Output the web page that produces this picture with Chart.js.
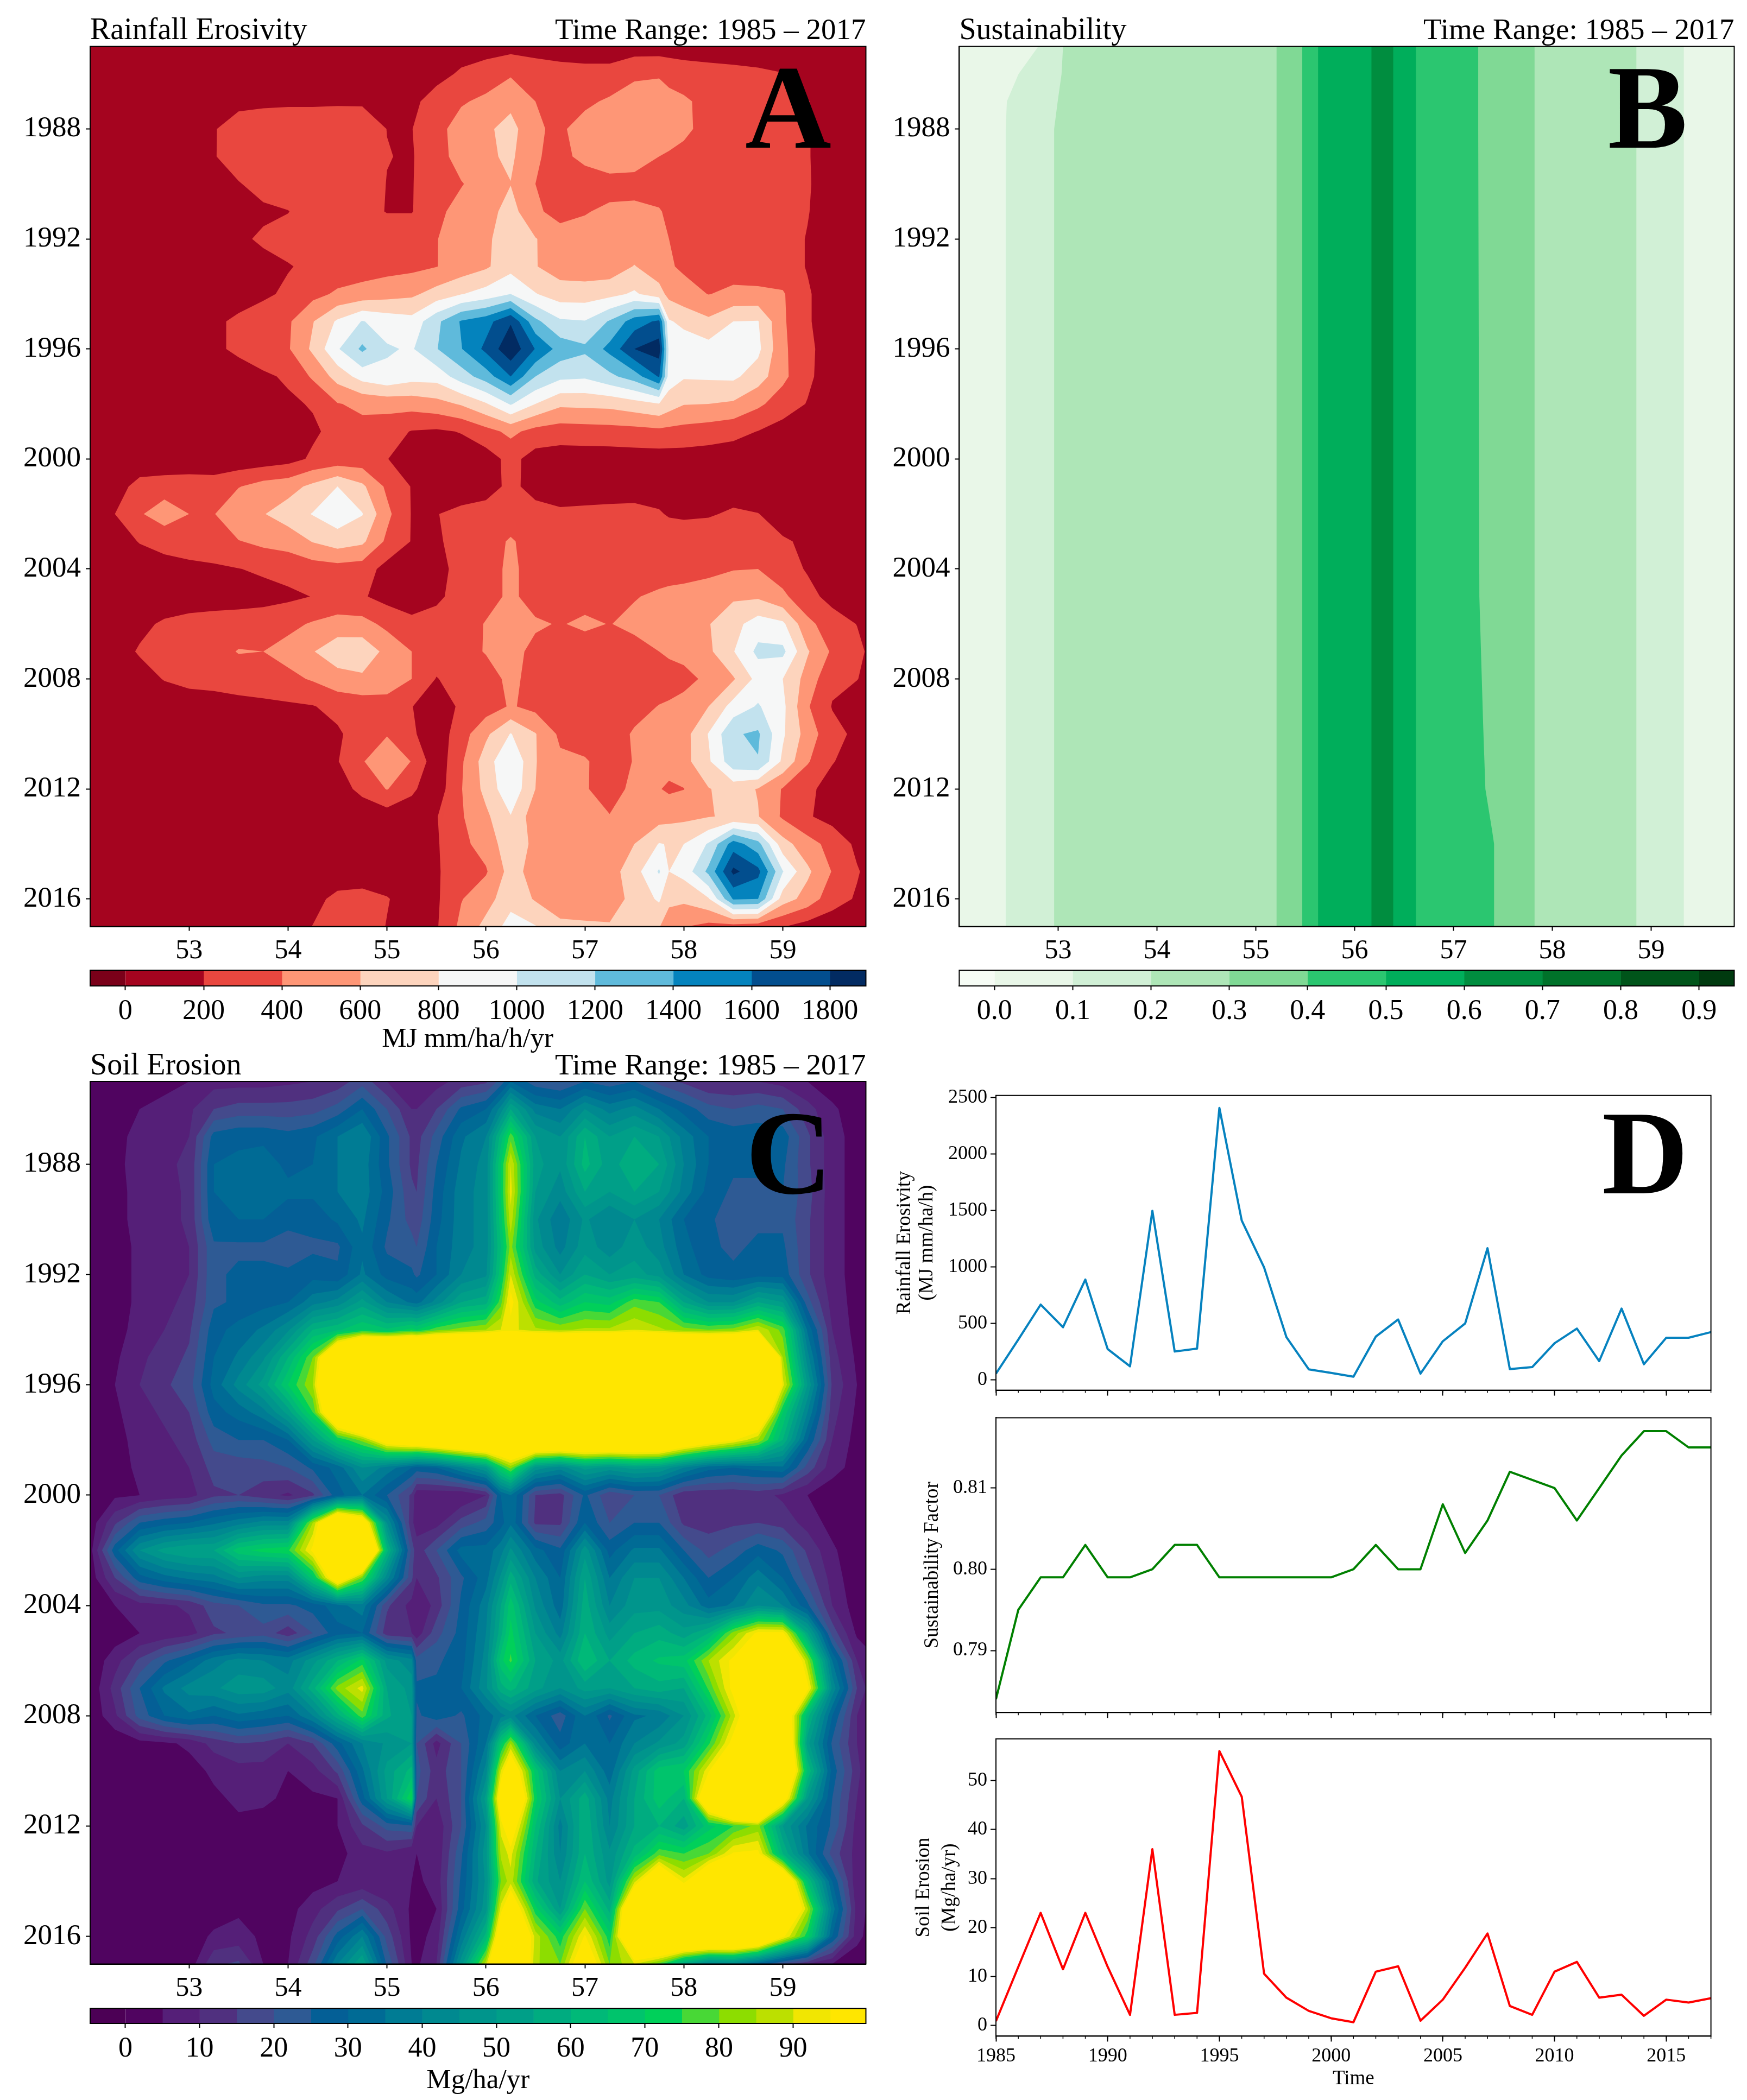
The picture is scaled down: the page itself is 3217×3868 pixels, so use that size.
<!DOCTYPE html>
<html>
<head>
<meta charset="utf-8">
<title>Rainfall erosivity, sustainability and soil erosion</title>
<script src="https://cdn.jsdelivr.net/npm/chart.js@4"></script>
<style>
html, body { margin: 0; padding: 0; background: #fff; }
#page { position: relative; width: 3217px; height: 3868px; overflow: hidden; }
canvas { position: absolute; }
</style>
</head>
<body>
<div id="page"></div>
<script>
const years = [1985,1986,1987,1988,1989,1990,1991,1992,1993,1994,1995,1996,1997,1998,1999,2000,2001,2002,2003,2004,2005,2006,2007,2008,2009,2010,2011,2012,2013,2014,2015,2016,2017]
const yearTicks = [1988,1992,1996,2000,2004,2008,2012,2016]
const lonTicks = [53,54,55,56,57,58,59]

// panel A: rainfall erosivity, one row per year
const lonA = [52,52.25,52.5,52.75,53,53.25,53.5,53.75,54,54.25,54.5,54.75,55,55.25,55.5,55.75,56,56.25,56.5,56.75,57,57.25,57.5,57.75,57.85,58,58.25,58.5,58.75,59,59.25,59.5,59.75,59.84]
const erosivity = [
[30,30,30,30,30,30,30,30,30,30,30,30,30,40,60,100,110,130,110,100,100,100,100,100,100,100,100,100,100,100,40,30,30,30],
[50,50,50,50,50,50,60,60,60,60,60,60,60,70,130,230,300,380,320,280,260,260,370,380,340,300,270,250,230,205,120,60,50,50],
[40,40,40,50,60,100,160,170,175,175,180,180,170,150,290,380,440,540,400,330,360,430,480,500,460,430,340,320,300,280,210,90,50,40],
[40,40,50,70,110,190,270,290,300,300,300,290,198,195,340,480,560,680,420,370,480,560,560,540,480,430,350,330,310,300,215,90,50,40],
[40,40,50,70,110,190,280,320,330,330,320,300,205,185,330,470,560,640,410,370,430,500,480,400,380,360,330,320,310,300,215,90,50,40],
[40,40,50,60,90,130,190,260,300,320,320,300,195,190,320,390,480,595,400,350,340,340,340,340,335,330,320,320,310,300,220,90,50,40],
[40,40,40,50,70,90,120,170,195,280,300,280,190,190,360,460,520,680,430,340,390,430,440,410,375,340,320,310,300,290,210,90,50,40],
[40,40,40,50,70,90,170,225,260,300,320,340,340,340,395,470,560,720,610,480,460,460,450,430,400,370,330,320,300,280,190,90,50,40],
[40,40,40,50,60,70,110,150,190,235,280,310,330,350,395,480,570,730,610,500,480,480,610,480,420,370,330,320,300,280,190,90,50,40],
[40,40,50,60,80,100,130,170,230,340,430,470,520,560,680,790,880,1000,810,700,700,740,830,680,540,470,395,440,440,420,220,100,50,40],
[40,50,70,100,130,170,230,290,370,590,830,1010,920,870,1150,1420,1520,1780,1250,1030,1010,1220,1500,1640,820,750,640,800,810,430,220,100,60,40],
[40,50,70,90,130,170,230,310,380,640,980,1240,1020,980,1190,1390,1650,1950,1590,1320,1240,1460,1800,1900,950,920,880,870,850,440,250,90,50,40],
[40,40,50,60,80,100,130,170,225,430,680,880,960,880,880,1100,1300,1600,1200,1050,1030,1150,1300,1620,900,820,830,840,700,450,240,90,50,40],
[40,40,40,50,60,80,100,130,170,215,390,440,470,480,530,620,780,1020,800,640,650,660,720,790,700,610,600,570,440,300,190,90,50,40],
[40,40,40,40,50,60,70,90,120,170,260,340,280,190,170,210,330,450,330,300,310,320,330,350,340,330,300,260,195,120,80,50,40,40],
[40,40,40,40,50,60,70,90,130,230,270,280,205,110,90,90,110,260,120,100,100,100,110,110,110,110,100,90,80,60,50,40,40,40],
[30,100,280,310,320,300,390,480,520,650,800,640,360,190,100,110,130,240,140,110,110,130,140,130,125,120,110,100,80,60,50,40,40,40],
[40,200,380,500,400,390,580,590,700,810,920,810,450,190,195,240,270,300,260,230,240,240,240,215,185,170,180,230,205,120,60,50,40,40],
[40,110,210,270,300,320,390,450,480,610,700,640,360,190,170,280,320,420,320,270,270,270,280,290,300,310,330,340,340,220,170,70,40,40],
[40,60,90,120,150,170,195,230,270,300,320,300,130,90,130,270,320,440,320,290,300,300,310,320,320,320,340,390,400,300,180,80,40,40],
[40,40,50,70,90,100,110,130,160,205,230,220,130,80,160,280,340,430,340,310,340,360,390,430,450,470,520,570,570,440,270,130,50,40],
[40,60,150,230,270,290,300,310,350,420,490,470,350,260,280,320,410,470,420,390,430,395,440,460,470,480,590,730,900,840,450,300,195,130],
[40,110,220,270,310,330,410,400,470,590,720,740,540,400,310,340,410,450,360,320,320,320,340,400,450,470,560,790,1050,1050,620,370,260,190],
[30,50,120,210,260,270,300,320,350,420,520,560,490,400,190,290,330,440,340,310,300,290,280,260,265,330,450,580,870,800,520,240,205,170],
[30,30,40,70,90,110,130,150,170,190,260,290,330,205,100,230,300,420,340,300,290,280,310,410,440,480,600,880,1020,850,420,190,110,100],
[30,30,30,40,60,70,90,100,120,140,170,300,390,230,80,310,560,810,610,360,300,270,430,560,510,520,810,1180,1230,830,510,260,160,130],
[30,30,30,30,50,50,70,70,80,110,190,390,500,395,70,370,700,1000,610,440,420,310,410,480,470,530,770,1130,1190,760,420,210,120,100],
[30,30,30,30,30,40,40,50,70,80,120,250,410,230,90,390,660,960,600,440,410,350,430,410,370,395,590,680,590,385,240,130,90,80],
[30,30,30,30,30,30,40,40,50,60,70,80,100,110,190,380,560,790,480,480,450,405,440,510,530,550,590,630,610,370,220,130,80,70],
[30,30,30,30,30,30,40,40,50,50,80,90,110,80,180,350,480,730,550,500,490,500,600,810,790,800,1020,1500,1270,680,480,330,160,120],
[30,30,30,30,30,30,40,40,50,50,60,70,60,50,180,300,380,680,520,500,490,510,720,1020,800,870,1250,1850,1660,1010,640,390,215,170],
[20,20,20,30,40,50,60,60,70,130,260,280,215,90,170,390,520,730,580,500,490,490,670,830,640,640,780,1420,1400,700,520,280,180,140],
[20,20,20,30,40,50,60,80,100,205,300,330,190,90,180,450,660,880,810,640,630,620,620,610,510,410,340,310,280,210,120,90,60,50]
]
const edgesA = [-90,0,200,400,600,800,1000,1200,1400,1600,1800,1892]
const colorsA = ['#7a0019','#a5041f','#e9473f','#fe9676','#fdd4bd','#f6f7f7','#c2e2ee','#5fbadb','#0483bd','#024e8e','#022b62']
const ticksA = [0,200,400,600,800,1000,1200,1400,1600,1800]

// panel B: sustainability, almost the same in every year so only a few rows
const lonB = [52,52.47,52.6,52.8,52.96,53.05,55.21,55.47,55.63,56.17,56.28,56.39,56.62,57.25,57.3,57.39,57.82,58.85,59.33,59.84]
const yearsB = [1985,1986,1987,1988,2005,2012,2014,2017]
const sustainability = [
[.05,.07,.08,.1,.17,.2,.3,.4,.5,.6,.65,.6,.5,.4,.39,.37,.3,.2,.1,.05],
[.05,.09,.1,.15,.195,.201,.3,.4,.5,.6,.65,.6,.5,.4,.39,.37,.3,.2,.1,.05],
[.05,.098,.12,.16,.198,.203,.3,.4,.5,.6,.65,.6,.5,.4,.39,.37,.3,.2,.1,.05],
[.05,.1,.13,.17,.2,.205,.3,.4,.5,.6,.65,.6,.5,.4,.39,.37,.3,.2,.1,.05],
[.05,.1,.13,.17,.2,.205,.3,.4,.5,.6,.65,.6,.5,.403,.39,.375,.3,.2,.1,.05],
[.05,.1,.13,.17,.2,.205,.3,.4,.5,.6,.65,.6,.5,.42,.405,.385,.3,.2,.1,.05],
[.05,.1,.13,.17,.2,.205,.3,.4,.5,.6,.65,.6,.5,.44,.42,.405,.3,.2,.1,.05],
[.05,.1,.13,.17,.2,.205,.3,.4,.5,.6,.65,.6,.5,.44,.42,.405,.3,.2,.1,.05]
]
const edgesB = [-.045,0,.1,.2,.3,.4,.5,.6,.7,.8,.9,.945]
const colorsB = ['#f6fcf5','#e9f7e8','#d1f0d6','#aee6b7','#80d995','#2bc670','#00ae5b','#008d3f','#00722a','#00541a','#003a0f']
const ticksB = [0,.1,.2,.3,.4,.5,.6,.7,.8,.9]

// panel C: soil erosion, values over 95 all show as yellow
const lonC = [52,52.25,52.5,52.75,53,53.25,53.5,53.75,54,54.25,54.5,54.75,55,55.25,55.3,55.5,55.75,56,56.15,56.25,56.5,56.75,57,57.25,57.5,57.75,58,58.25,58.5,58.75,59,59.25,59.5,59.75,59.84]
const soilErosion = [
[1,1,2,3,5,8,8,8,9,10,12,18,10,6,6,8,12,14,22,30,22,20,25,22,25,18,14,10,10,10,8,5,2,1,1],
[1,2,5,7,9,15,17,17,17,18,22,30,20,10,10,15,26,30,42,55,38,35,45,38,42,35,28,22,20,22,20,12,6,2,1],
[1,3,7,8,10,27,29,29,27,29,35,40,26,14,13,22,34,40,62,78,50,45,60,50,55,50,38,30,28,28,28,16,7,3,2],
[1,3,8,9,11,30,31,32,29,30,35,38,26,14,14,25,36,42,70,90,52,46,62,52,60,55,40,30,26,26,26,16,7,3,2],
[1,3,7,8,11,30,32,33,31,31,35,38,28,16,15,27,38,42,70,92,50,42,55,50,55,50,38,28,24,24,25,17,7,3,2],
[1,3,7,8,11,29,30,30,27,27,31,36,26,18,17,28,38,42,68,88,46,36,46,40,45,40,30,26,22,24,24,16,7,3,2],
[1,3,6,8,10,24,24,24,22,24,24,34,24,22,20,30,38,42,65,82,48,38,48,42,48,42,32,26,24,26,26,16,7,3,2],
[1,3,6,8,10,24,26,26,26,28,26,36,28,26,24,30,40,44,68,90,58,45,55,50,52,48,35,28,26,28,28,16,7,3,2],
[1,3,6,8,12,24,26,28,30,38,42,52,40,34,33,42,55,58,78,98,72,62,70,68,78,75,55,45,45,55,50,22,8,3,2],
[1,3,7,10,14,28,32,36,44,60,64,70,66,72,70,78,82,85,90,92,86,84,86,86,90,86,82,80,82,90,78,34,10,3,2],
[1,4,9,12,16,30,36,44,60,80,130,170,170,170,170,170,170,170,170,170,170,170,170,170,170,170,170,170,170,170,85,42,12,4,2],
[1,5,10,14,18,32,42,52,70,85,150,200,200,200,200,200,200,200,200,200,200,200,200,200,200,200,200,200,200,200,92,50,14,5,2],
[1,4,8,11,15,28,32,38,52,75,125,150,150,150,150,150,150,150,150,150,150,150,150,150,150,150,150,150,150,120,70,40,12,4,2],
[1,3,7,9,12,22,25,25,30,50,70,82,105,112,112,118,125,130,130,130,130,130,130,130,130,130,115,105,96,85,60,30,10,3,2],
[1,3,6,8,10,17,17,18,20,26,32,45,38,30,28,30,40,50,72,82,48,42,52,48,52,50,40,32,30,32,34,18,7,3,2],
[1,4,5,7,8,14,15,12,9,14,28,35,25,14,6,6,5,10,30,35,15,13,26,16,20,20,11,11,11,12,9,5,2,1,1],
[2,14,25,28,30,34,38,42,42,85,130,110,45,11,8,8,17,22,28,34,14,14,30,20,25,25,14,13,14,15,13,8,3,1,1],
[3,28,45,52,55,55,68,72,74,97,160,150,62,18,12,20,32,32,38,46,32,26,48,28,36,36,25,18,22,28,24,14,6,1,1],
[2,15,28,33,36,38,45,42,42,68,110,80,42,16,10,14,24,33,46,58,40,30,55,35,45,45,35,25,30,38,30,18,8,1,1],
[1,5,8,9,11,18,20,24,24,27,33,38,16,8,5,12,26,38,55,68,44,32,58,40,48,48,42,32,36,45,40,26,10,2,2],
[1,2,5,6,8,14,16,18,12,20,28,30,12,10,7,18,27,40,58,72,50,38,60,48,55,58,52,60,82,97,97,55,18,4,3],
[1,8,16,24,30,38,42,40,38,48,60,72,48,42,22,24,28,42,68,76,55,48,65,55,62,66,68,85,97,130,130,85,35,10,7],
[1,12,25,36,42,44,48,48,42,58,82,92,55,48,26,26,30,44,58,62,52,45,52,50,55,58,55,76,98,130,130,98,44,15,10],
[1,9,22,30,34,30,34,32,30,40,58,78,56,50,24,28,24,32,38,42,30,22,35,24,34,36,45,62,88,115,115,62,30,10,8],
[1,1,3,4,6,12,15,14,10,15,28,40,46,50,20,8,20,35,68,85,42,27,35,30,40,46,52,74,99,130,125,52,24,10,6],
[1,1,1,1,3,6,8,8,5,8,16,34,52,62,22,12,20,42,90,110,68,40,45,32,52,68,70,94,130,150,130,65,28,12,7],
[1,1,1,1,2,4,6,6,4,4,5,28,50,75,20,10,20,52,105,130,72,45,58,38,55,68,60,120,170,170,105,50,25,10,6],
[1,1,1,1,1,2,4,3,2,3,5,14,22,24,10,6,20,45,92,105,65,38,60,40,55,60,52,68,75,82,50,34,24,8,5],
[1,1,1,1,1,1,2,2,2,2,3,8,9,5,5,6,24,48,86,92,60,40,60,46,62,78,75,80,96,97,60,36,18,8,5],
[1,1,1,1,1,0,1,2,2,3,5,6,5,5,4,7,26,46,80,88,56,45,65,48,88,120,92,120,140,140,120,65,30,6,5],
[1,1,1,1,1,2,4,3,3,8,14,20,12,4,3,5,28,48,92,110,72,50,80,58,130,150,140,140,150,150,130,86,38,8,5],
[1,1,1,1,2,6,7,4,4,12,27,40,18,4,3,7,36,62,110,130,88,72,96,72,130,140,140,140,140,130,97,72,30,7,4],
[1,1,1,1,2,14,16,5,5,18,40,55,24,5,4,10,48,88,130,130,86,80,110,80,90,78,55,40,42,30,18,10,5,1,1]
]
const edgesC = [-4.75,0,5,10,15,20,25,30,35,40,45,50,55,60,65,70,75,80,85,90,95,99.8]
const colorsC = ['#4c0055','#500460','#551f78','#50307f','#444a8c','#2e5a94','#045f96','#006b95','#007c94','#008990','#00958c','#009f88','#00ac80','#00b978','#00c46c','#00d05a','#48d836','#8ddd00','#bce000','#f1e602','#ffe600']
const ticksC = [0,10,20,30,40,50,60,70,80,90]

// panel D: yearly means
const meanRainfall = [53,355,665,464,887,271,118,1497,249,275,2409,1410,995,377,91,59,26,381,533,53,340,498,1165,93,111,322,452,164,630,136,371,371,421]
const meanSustain = [.784,.795,.799,.799,.803,.799,.799,.8,.803,.803,.799,.799,.799,.799,.799,.799,.8,.803,.8,.8,.808,.802,.806,.812,.811,.81,.806,.81,.814,.817,.817,.815,.815]
const meanSoil = [.9,12,23,11.5,23,12,2.2,36,2.2,2.6,56,46.7,10.6,5.7,3,1.5,.7,11,12.1,1,5.3,11.8,18.8,4,2.2,11,13,5.7,6.3,2,5.3,4.7,5.6]
const lineYearTicks = [1985,1990,1995,2000,2005,2010,2015]
const rainfallTicks = [0,500,1000,1500,2000,2500]
const sustainTicks = [.79,.8,.81]
const soilTicks = [0,10,20,30,40,50]

const SERIF = '"Liberation Serif", "Times New Roman", serif'
Chart.defaults.font.family = SERIF
Chart.defaults.color = '#000'

const page = document.getElementById('page')

function addCanvas(box) {
    const c = document.createElement('canvas')
    c.width = box.w
    c.height = box.h
    c.style.left = box.x + 'px'
    c.style.top = box.y + 'px'
    c.style.width = box.w + 'px'
    c.style.height = box.h + 'px'
    page.appendChild(c)
    return c.getContext('2d')
}

// draws filled contour bands from a value grid, through the chart's own scales
function contourPlugin(xs, ys, grid, edges, colors) {
    return {
        id: 'contour',
        beforeDatasetsDraw(chart) {
            const { ctx, chartArea: a, scales } = chart
            const px = xs.map(v => scales.x.getPixelForValue(v))
            const py = ys.map(v => scales.y.getPixelForValue(v))
            ctx.save()
            ctx.beginPath()
            ctx.rect(a.left, a.top, a.width, a.height)
            ctx.clip()
            colors.forEach((color, k) => {
                const level = edges[k]
                const path = new Path2D()
                for (let j = 0; j < ys.length - 1; j++) {
                    for (let i = 0; i < xs.length - 1; i++) {
                        const cx = [px[i], px[i + 1], px[i + 1], px[i]]
                        const cy = [py[j], py[j], py[j + 1], py[j + 1]]
                        const cv = [grid[j][i], grid[j][i + 1], grid[j + 1][i + 1], grid[j + 1][i]]
                        const pts = []
                        for (let n = 0; n < 4; n++) {
                            const m = (n + 1) % 4
                            const inA = cv[n] >= level, inB = cv[m] >= level
                            if (inA) pts.push([cx[n], cy[n]])
                            if (inA !== inB) {
                                const t = (level - cv[n]) / (cv[m] - cv[n])
                                pts.push([cx[n] + t * (cx[m] - cx[n]), cy[n] + t * (cy[m] - cy[n])])
                            }
                        }
                        if (pts.length < 3) continue
                        path.moveTo(pts[0][0], pts[0][1])
                        for (let n = 1; n < pts.length; n++) path.lineTo(pts[n][0], pts[n][1])
                        path.closePath()
                    }
                }
                ctx.fillStyle = color
                ctx.fill(path)
            })
            ctx.restore()
        }
    }
}

const framePlugin = {
    id: 'frame',
    afterDraw(chart) {
        const { ctx, chartArea: a } = chart
        ctx.save()
        ctx.strokeStyle = '#000'
        ctx.lineWidth = 2
        ctx.strokeRect(a.left, a.top, a.width, a.height)
        ctx.restore()
    }
}

function panelText(left, right, letter, letterRight, letterBase) {
    return {
        id: 'panelText',
        afterDraw(chart) {
            const { ctx, chartArea: a } = chart
            ctx.save()
            ctx.fillStyle = '#000'
            ctx.textBaseline = 'alphabetic'
            if (left) {
                ctx.font = '56px ' + SERIF
                ctx.textAlign = 'left'
                ctx.fillText(left, a.left, a.top - 13.5)
            }
            if (right) {
                ctx.font = '55px ' + SERIF
                ctx.textAlign = 'right'
                ctx.fillText(right, a.right, a.top - 13.5)
            }
            if (letter) {
                ctx.font = 'bold 220px ' + SERIF
                ctx.textAlign = 'right'
                ctx.fillText(letter, a.left + letterRight, a.top + letterBase)
            }
            ctx.restore()
        }
    }
}

const yearMinorTicks = {
    id: 'yearMinorTicks',
    afterDraw(chart) {
        const { ctx, chartArea: a, scales } = chart
        ctx.save()
        ctx.strokeStyle = '#000'
        ctx.lineWidth = 1.5
        years.forEach(y => {
            const x = scales.x.getPixelForValue(y)
            ctx.beginPath()
            ctx.moveTo(x, a.bottom)
            ctx.lineTo(x, a.bottom + 5)
            ctx.stroke()
        })
        ctx.restore()
    }
}

function axis(min, max, tickList, size, tickLen, pad, extra) {
    return Object.assign({
        type: 'linear',
        min, max,
        grid: { drawOnChartArea: false, drawTicks: true, tickLength: tickLen, tickColor: '#000', tickWidth: 2 },
        border: { display: true, color: '#000', width: 2 },
        afterBuildTicks: s => { s.ticks = tickList.map(v => ({ value: v })) },
        ticks: { font: { size }, padding: pad, autoSkip: false, maxRotation: 0, callback: v => String(v) }
    }, extra || {})
}

function fixedBoxes(opts, box, plot) {
    opts.layout = { padding: { left: 0, right: box.x + box.w - plot.right, top: plot.top - box.y, bottom: 0 } }
    const yw = plot.left - box.x, xh = box.y + box.h - plot.bottom
    const xs = opts.scales.x, ys = opts.scales.y
    xs.afterFit = s => { s.height = xh }
    if (ys.display === false) {
        opts.layout.padding.left = yw
    } else {
        ys.afterFit = s => { s.width = yw }
    }
    opts.responsive = false
    opts.animation = false
    opts.devicePixelRatio = 1
    opts.plugins = { legend: { display: false }, tooltip: { enabled: false }, title: { display: false } }
    return opts
}

function contourChart(box, plot, xs, ys, grid, edges, colors, title, letter, letterRight, letterBase) {
    const opts = fixedBoxes({
        scales: {
            x: axis(52, 59.84, lonTicks, 50, 8, 7),
            y: axis(1985, 2017, yearTicks, 53, 8, 9, { reverse: true })
        }
    }, box, plot)
    return new Chart(addCanvas(box), {
        type: 'scatter',
        data: { datasets: [] },
        options: opts,
        plugins: [contourPlugin(xs, ys, grid, edges, colors), framePlugin,
            panelText(title, 'Time Range: 1985 \u2013 2017', letter, letterRight, letterBase)]
    })
}

function colorBar(box, plot, edges, colors, tickList, digits, label) {
    const xAxis = axis(edges[0], edges[edges.length - 1], tickList, 52, 8, 8)
    xAxis.ticks.callback = v => digits ? v.toFixed(digits) : String(v)
    if (label) xAxis.title = { display: true, text: label, font: { size: 51, lineHeight: 1.2 }, padding: { top: 0, bottom: 5 } }
    const opts = fixedBoxes({
        indexAxis: 'y',
        scales: { x: xAxis, y: { type: 'category', display: false } }
    }, box, plot)
    return new Chart(addCanvas(box), {
        type: 'bar',
        data: {
            labels: [''],
            datasets: colors.map((c, i) => ({
                data: [[edges[i], edges[i + 1]]],
                backgroundColor: c,
                borderWidth: 0,
                grouped: false,
                barPercentage: 1,
                categoryPercentage: 1
            }))
        },
        options: opts,
        plugins: [framePlugin]
    })
}

function lineChart(box, plot, values, color, ymin, ymax, tickList, digits, yTitle, yLineHeight, yPad, showX, letter) {
    const xAxis = axis(1985, 2017, lineYearTicks, 36, 10, 6)
    xAxis.ticks.display = showX
    if (showX) xAxis.title = { display: true, text: 'Time', font: { size: 37, lineHeight: 1.2 }, padding: { top: 0, bottom: 17 } }
    const yAxis = axis(ymin, ymax, tickList, 36, 10, 6)
    yAxis.ticks.callback = v => digits ? v.toFixed(digits) : String(v)
    yAxis.title = { display: true, text: yTitle, font: { size: 37, lineHeight: yLineHeight }, padding: { top: yPad, bottom: 0 } }
    const opts = fixedBoxes({ scales: { x: xAxis, y: yAxis } }, box, plot)
    return new Chart(addCanvas(box), {
        type: 'line',
        data: {
            datasets: [{
                data: years.map((y, i) => ({ x: y, y: values[i] })),
                borderColor: color,
                borderWidth: 4,
                borderJoinStyle: 'round',
                pointRadius: 0,
                tension: 0,
                fill: false
            }]
        },
        options: opts,
        plugins: [framePlugin, yearMinorTicks, panelText('', '', letter, 1275, 180)]
    })
}

contourChart({ x: 0, y: 0, w: 1650, h: 1780 }, { left: 166, right: 1594.5, top: 85.5, bottom: 1706.5 },
    lonA, years, erosivity, edgesA, colorsA, 'Rainfall Erosivity', 'A', 1365, 186)
contourChart({ x: 1620, y: 0, w: 1597, h: 1780 }, { left: 1766.4, right: 3193.5, top: 85.5, bottom: 1706.5 },
    lonB, yearsB, sustainability, edgesB, colorsB, 'Sustainability', 'B', 1341, 186)
contourChart({ x: 0, y: 1930, w: 1650, h: 1750 }, { left: 166, right: 1594.5, top: 1992, bottom: 3617.5 },
    lonC, years, soilErosion, edgesC, colorsC, 'Soil Erosion', 'C', 1366, 206)

colorBar({ x: 100, y: 1770, w: 1560, h: 180 }, { left: 166, right: 1594.5, top: 1787, bottom: 1816 },
    edgesA, colorsA, ticksA, 0, 'MJ mm/ha/h/yr   ')
colorBar({ x: 1700, y: 1770, w: 1517, h: 180 }, { left: 1766.4, right: 3193.5, top: 1787, bottom: 1816 },
    edgesB, colorsB, ticksB, 1, '')
colorBar({ x: 100, y: 3685, w: 1560, h: 183 }, { left: 166, right: 1594.5, top: 3699.3, bottom: 3727 },
    edgesC, colorsC, ticksC, 0, 'Mg/ha/yr')

lineChart({ x: 1620, y: 1960, w: 1597, h: 640 }, { left: 1834, right: 3150.6, top: 2017.7, bottom: 2560.6 },
    meanRainfall, '#0682bf', -94, 2520, rainfallTicks, 0, ['Rainfall Erosivity', '(MJ mm/ha/h)'], 1.1, 26, false, 'D')
lineChart({ x: 1620, y: 2570, w: 1597, h: 620 }, { left: 1834, right: 3150.6, top: 2611.4, bottom: 3154.3 },
    meanSustain, '#008000', .78236, .81865, sustainTicks, 2, 'Sustainability Factor', 1.1, 77, false, '')
lineChart({ x: 1620, y: 3150, w: 1597, h: 718 }, { left: 1834, right: 3150.6, top: 3202.8, bottom: 3750.4 },
    meanSoil, '#ff0000', -2.15, 58.5, soilTicks, 0, ['Soil Erosion', '(Mg/ha/yr)'], 1.3, 57, true, '')
</script>
</body>
</html>
